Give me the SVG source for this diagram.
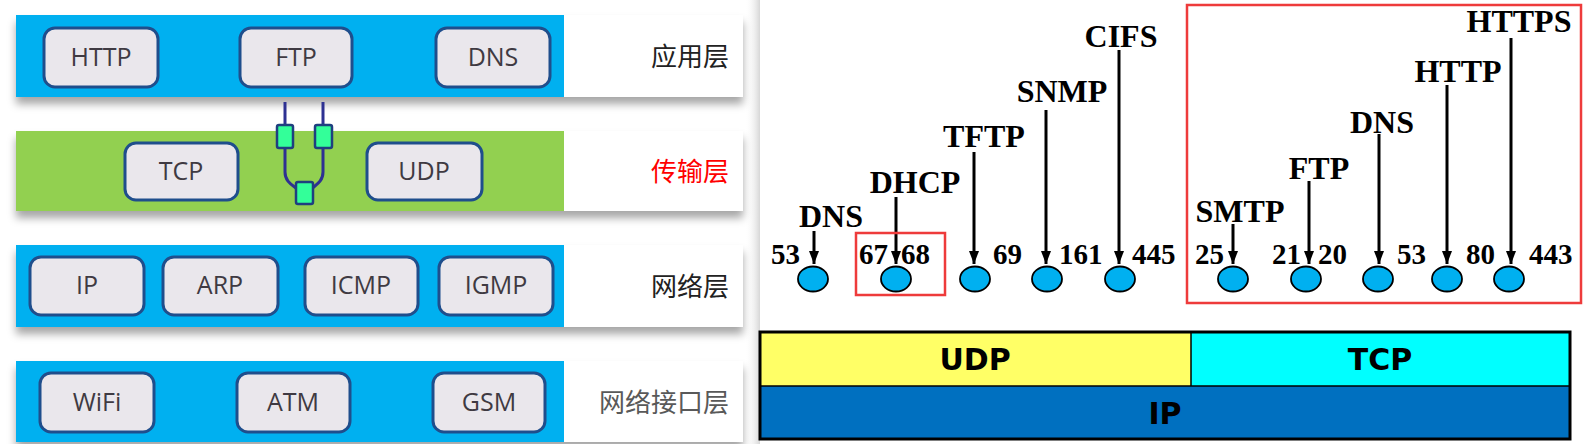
<svg xmlns="http://www.w3.org/2000/svg" width="1595" height="444" viewBox="0 0 1595 444">
<defs>
<filter id="sh" x="-5%" y="-20%" width="110%" height="160%">
<feDropShadow dx="0" dy="7" stdDeviation="4" flood-color="#000" flood-opacity="0.35"/>
</filter>
<marker id="ah" viewBox="0 0 13 10" refX="13" refY="5" markerWidth="13" markerHeight="10" markerUnits="userSpaceOnUse" orient="auto">
<path d="M0,0 L13,5 L0,10 Z" fill="#000"/>
</marker>
<linearGradient id="edge" x1="0" x2="1" y1="0" y2="0">
<stop offset="0" stop-color="#fff" stop-opacity="0"/>
<stop offset="1" stop-color="#bbb" stop-opacity="0.6"/>
</linearGradient>
</defs>
<style>
.box{fill:#EAE7EC;stroke:#1F4E8C;stroke-width:3}
.bt{font-family:"Open Sans","Noto Sans",sans-serif;font-size:25px;fill:#3F3A42;text-anchor:middle}
.cn{font-family:"Noto Sans CJK SC",sans-serif;font-size:26px;fill:#222;text-anchor:middle}
.lbl{font-family:"Liberation Serif",serif;font-weight:bold;font-size:32px;fill:#000;text-anchor:middle}
.num{font-family:"Liberation Serif",serif;font-weight:bold;font-size:29px;fill:#000}
.arr{stroke:#000;stroke-width:3;fill:none;marker-end:url(#ah)}
.port{fill:#00B0F0;stroke:#000;stroke-width:1.8}
.sq{fill:#33FF99;stroke:#1F3F7F;stroke-width:2.5}
.wire{fill:none;stroke:#2E3192;stroke-width:3}
.big{font-family:"DejaVu Sans",sans-serif;font-weight:bold;font-size:30px;fill:#000;text-anchor:middle}
</style>
<rect width="1595" height="444" fill="#fff"/>
<rect x="745" y="0" width="15" height="444" fill="url(#edge)"/>

<g id="app-layer">
<rect x="16" y="15" width="727" height="82" fill="#fff" filter="url(#sh)"/>
<rect x="16" y="15" width="548" height="82" fill="#00B0F0"/>
<text class="cn" x="690" y="66">应用层</text>
</g>
<g id="app-http"><rect class="box" x="44" y="28" width="114" height="59" rx="11"/><text class="bt" x="101" y="66">HTTP</text></g>
<g id="app-ftp"><rect class="box" x="240" y="28" width="112" height="59" rx="11"/><text class="bt" x="296" y="66">FTP</text></g>
<g id="app-dns"><rect class="box" x="436" y="28" width="114" height="59" rx="11"/><text class="bt" x="493" y="66">DNS</text></g>

<g id="transport-layer">
<rect x="16" y="131" width="727" height="80" fill="#fff" filter="url(#sh)"/>
<rect x="16" y="131" width="548" height="80" fill="#92D050"/>
<text class="cn" x="690" y="181" style="fill:#FF0000">传输层</text>
</g>
<g id="tr-tcp"><rect class="box" x="125" y="143" width="113" height="57" rx="11"/><text class="bt" x="181" y="180">TCP</text></g>
<g id="tr-udp"><rect class="box" x="367" y="143" width="115" height="57" rx="11"/><text class="bt" x="424" y="180">UDP</text></g>

<g id="net-layer">
<rect x="16" y="245" width="727" height="82" fill="#fff" filter="url(#sh)"/>
<rect x="16" y="245" width="548" height="82" fill="#00B0F0"/>
<text class="cn" x="690" y="296">网络层</text>
</g>
<g id="net-ip"><rect class="box" x="30" y="257" width="114" height="58" rx="11"/><text class="bt" x="87" y="294">IP</text></g>
<g id="net-arp"><rect class="box" x="163" y="257" width="115" height="58" rx="11"/><text class="bt" x="220" y="294">ARP</text></g>
<g id="net-icmp"><rect class="box" x="305" y="257" width="113" height="58" rx="11"/><text class="bt" x="361" y="294">ICMP</text></g>
<g id="net-igmp"><rect class="box" x="439" y="257" width="114" height="58" rx="11"/><text class="bt" x="496" y="294">IGMP</text></g>

<g id="link-layer">
<rect x="16" y="361" width="727" height="81" fill="#fff" filter="url(#sh)"/>
<rect x="16" y="361" width="548" height="81" fill="#00B0F0"/>
<text class="cn" x="664" y="412" style="fill:#595959">网络接口层</text>
</g>
<g id="link-wifi"><rect class="box" x="40" y="373" width="114" height="59" rx="11"/><text class="bt" x="97" y="411">WiFi</text></g>
<g id="link-atm"><rect class="box" x="237" y="373" width="113" height="59" rx="11"/><text class="bt" x="293" y="411">ATM</text></g>
<g id="link-gsm"><rect class="box" x="433" y="373" width="112" height="59" rx="11"/><text class="bt" x="489" y="411">GSM</text></g>

<g id="connectors">
<path class="wire" d="M285 102 V172 C285 184 296 186 300 192"/>
<path class="wire" d="M323 102 V172 C323 184 312 186 309 192"/>
<g id="port-sq">
<rect class="sq" x="277" y="125" width="16" height="23" rx="2"/>
<rect class="sq" x="315" y="125" width="17" height="23" rx="2"/>
<rect class="sq" x="296" y="182" width="17" height="22" rx="2"/>
</g>
<line class="arr" x1="814" y1="231" x2="814" y2="264"/>
<line class="arr" x1="896" y1="197" x2="896" y2="264"/>
<line class="arr" x1="974" y1="152" x2="974" y2="264"/>
<line class="arr" x1="1046" y1="110" x2="1046" y2="264"/>
<line class="arr" x1="1119" y1="50" x2="1119" y2="264"/>
<line class="arr" x1="1233" y1="224" x2="1233" y2="264"/>
<line class="arr" x1="1309" y1="181" x2="1309" y2="264"/>
<line class="arr" x1="1379" y1="134" x2="1379" y2="264"/>
<line class="arr" x1="1447" y1="85" x2="1447" y2="264"/>
<line class="arr" x1="1511" y1="38" x2="1511" y2="264"/>
</g>

<g id="udp-protocols">
<text class="lbl" x="831" y="227">DNS</text>
<text class="lbl" x="915" y="193">DHCP</text>
<text class="lbl" x="984" y="147">TFTP</text>
<text class="lbl" x="1062" y="102">SNMP</text>
<text class="lbl" x="1121" y="47">CIFS</text>
</g>
<g id="tcp-protocols">
<text class="lbl" x="1240" y="222">SMTP</text>
<text class="lbl" x="1319" y="179">FTP</text>
<text class="lbl" x="1382" y="133">DNS</text>
<text class="lbl" x="1458" y="82">HTTP</text>
<text class="lbl" x="1519" y="32">HTTPS</text>
</g>
<g id="port-numbers">
<text class="num" x="771" y="264">53</text>
<text class="num" x="859" y="264">67</text>
<text class="num" x="901" y="264">68</text>
<text class="num" x="993" y="264">69</text>
<text class="num" x="1059" y="264">161</text>
<text class="num" x="1132" y="264">445</text>
<text class="num" x="1195" y="264">25</text>
<text class="num" x="1272" y="264">21</text>
<text class="num" x="1318" y="264">20</text>
<text class="num" x="1397" y="264">53</text>
<text class="num" x="1466" y="264">80</text>
<text class="num" x="1529" y="264">443</text>
</g>
<g id="ports">
<ellipse class="port" cx="813" cy="279" rx="15" ry="12.5"/>
<ellipse class="port" cx="896" cy="279" rx="15" ry="12.5"/>
<ellipse class="port" cx="975" cy="279" rx="15" ry="12.5"/>
<ellipse class="port" cx="1047" cy="279" rx="15" ry="12.5"/>
<ellipse class="port" cx="1120" cy="279" rx="15" ry="12.5"/>
<ellipse class="port" cx="1233" cy="279" rx="15" ry="12.5"/>
<ellipse class="port" cx="1306" cy="279" rx="15" ry="12.5"/>
<ellipse class="port" cx="1378" cy="279" rx="15" ry="12.5"/>
<ellipse class="port" cx="1447" cy="279" rx="15" ry="12.5"/>
<ellipse class="port" cx="1509" cy="279" rx="15" ry="12.5"/>
</g>
<g id="highlights">
<rect x="856" y="233" width="89" height="62" fill="none" stroke="#EE3B3B" stroke-width="2.5"/>
<rect x="1187" y="5" width="394" height="298" fill="none" stroke="#EE3B3B" stroke-width="2.5"/>
</g>

<g id="stack">
<rect x="760" y="332" width="431" height="54" fill="#FFFF66"/>
<rect x="1191" y="332" width="379" height="54" fill="#00FFFF"/>
<rect x="760" y="386" width="810" height="53" fill="#0070C0"/>
<line x1="760" y1="386" x2="1570" y2="386" stroke="#000" stroke-width="1.5"/>
<line x1="1191" y1="332" x2="1191" y2="386" stroke="#000" stroke-width="1.5"/>
<rect x="760" y="332" width="810" height="107" fill="none" stroke="#000" stroke-width="3"/>
<text class="big" x="975" y="370">UDP</text>
<text class="big" x="1380" y="370">TCP</text>
<text class="big" x="1165" y="424">IP</text>
</g>
</svg>
